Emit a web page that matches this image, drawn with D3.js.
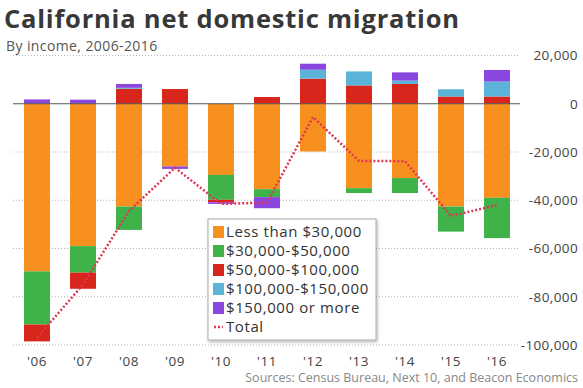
<!DOCTYPE html>
<html>
<head>
<meta charset="utf-8">
<script src="https://cdn.jsdelivr.net/npm/d3@7"></script>
<style>
  html, body { margin: 0; padding: 0; background: #fff; }
  svg { display: block; font-family: "Open Sans", "Lato", sans-serif; }
</style>
</head>
<body>
<svg id="chart" width="583" height="388"></svg>
<script>
// Net domestic migration into California by household income bracket
const years = ["'06", "'07", "'08", "'09", "'10", "'11", "'12", "'13", "'14", "'15", "'16"];
const under30k   = [-69500, -59000, -42600, -26000, -29500, -35400, -19800, -35000, -30800, -42600, -39000];
const from30to50 = [-22000, -11000,  -9700,      0, -10300,  -3300,      0,  -2000,  -6200, -10400, -16700];
const from50to100 = [-7000,  -6700,   6200,   6100,  -1000,   2800,  10400,   7600,   8200,   3000,   3000];
const from100to150 = [   0,      0,    400,      0,      0,      0,   3700,   5800,   1400,   3000,   6200];
const over150k   = [  1800,   1700,   1600,  -1000,   -700,  -4600,   2500,      0,   3400,      0,   4800];
const totals     = [-97000, -75000, -44500, -26500, -41500, -41000,  -5500, -23700, -23800, -46500, -42000];
const yTicks = [20000, 0, -20000, -40000, -60000, -80000, -100000];

const seriesNames = ["Less than $30,000", "$30,000-$50,000", "$50,000-$100,000", "$100,000-$150,000", "$150,000 or more"];
const seriesValues = [under30k, from30to50, from50to100, from100to150, over150k];
const colors = ["#f7901e", "#3fb34a", "#d8261d", "#5bb3d8", "#8a47e0"];

const rows = years.map((yr, i) => {
  const r = { year: yr };
  seriesNames.forEach((n, k) => { r[n] = seriesValues[k][i]; });
  return r;
});

const svg = d3.select("#chart");

const x = d3.scaleBand().domain(years).range([14, 520])
  .paddingInner(0.435).paddingOuter(0.2175);
const y = d3.scaleLinear().domain([-100000, 20000]).range([345, 55.5]);

// Title block
svg.append("text").attr("x", 4).attr("y", 28)
  .attr("font-size", 25.5).attr("font-weight", 700).attr("fill", "#383838")
  .attr("letter-spacing", 0.8)
  .text("California net domestic migration");
svg.append("text").attr("x", 6).attr("y", 51)
  .attr("font-size", 14).attr("fill", "#555").attr("letter-spacing", 0.4)
  .text("By income, 2006-2016");

// Dotted horizontal gridlines (zero gets its own solid rule)
svg.append("g").selectAll("line")
  .data(yTicks.filter(d => d !== 0))
  .join("line")
  .attr("x1", 13).attr("x2", 520)
  .attr("y1", d => y(d)).attr("y2", d => y(d))
  .attr("stroke", "#b5b5b5").attr("stroke-width", 1)
  .attr("stroke-dasharray", "1,2");

// Diverging stacked bars
const stack = d3.stack().keys(seriesNames).offset(d3.stackOffsetDiverging);
const stacked = stack(rows);

svg.append("g").selectAll("g")
  .data(stacked)
  .join("g")
  .attr("fill", (d, i) => colors[i])
  .selectAll("rect")
  .data(d => d)
  .join("rect")
  .attr("x", d => x(d.data.year))
  .attr("width", x.bandwidth())
  .attr("y", d => y(Math.max(d[0], d[1])))
  .attr("height", d => Math.abs(y(d[0]) - y(d[1])));

// Zero rule
svg.append("line")
  .attr("x1", 13).attr("x2", 520)
  .attr("y1", y(0)).attr("y2", y(0))
  .attr("stroke", "#555").attr("stroke-width", 1);

// Total line
const totalLine = d3.line()
  .x((d, i) => x(years[i]) + x.bandwidth() / 2)
  .y(d => y(d));
svg.append("path")
  .datum(totals)
  .attr("d", totalLine)
  .attr("fill", "none")
  .attr("stroke", "#de3653")
  .attr("stroke-width", 2.5)
  .attr("stroke-dasharray", "2,2");

// Right value axis
const yAxis = d3.axisRight(y).tickValues(yTicks).tickSize(0).tickPadding(0)
  .tickFormat(d3.format(","));
const ya = svg.append("g").attr("transform", "translate(578,0)").call(yAxis);
ya.select(".domain").remove();
ya.selectAll("text")
  .attr("text-anchor", "end").attr("font-size", 13.5).attr("letter-spacing", 0.4)
  .attr("font-family", "'Open Sans', sans-serif").attr("fill", "#444")
  .text(d => d < 0 ? "-" + d3.format(",")(-d) : d3.format(",")(d));

// Year axis
const xAxis = d3.axisBottom(x).tickSize(0).tickPadding(0);
const xa = svg.append("g").attr("transform", "translate(0,356)").call(xAxis);
xa.select(".domain").remove();
xa.selectAll("text")
  .attr("font-size", 13.5).attr("font-family", "'Open Sans', sans-serif")
  .attr("letter-spacing", 0.6)
  .attr("fill", "#444").attr("dy", "0.71em");

// Source line
svg.append("text").attr("x", 578).attr("y", 382)
  .attr("text-anchor", "end").attr("font-size", 12.5).attr("fill", "#888")
  .text("Sources: Census Bureau, Next 10, and Beacon Economics");

// Legend
const lg = svg.append("g").attr("transform", "translate(208,219)");
const defs = svg.append("defs");
const shadow = defs.append("filter").attr("id", "legendShadow")
  .attr("x", "-10%").attr("y", "-10%").attr("width", "130%").attr("height", "130%");
shadow.append("feDropShadow").attr("dx", 1).attr("dy", 1.5).attr("stdDeviation", 1.5)
  .attr("flood-color", "#000").attr("flood-opacity", 0.3);
lg.append("rect").attr("width", 168).attr("height", 121)
  .attr("fill", "#fff").attr("stroke", "#aaa").attr("stroke-width", 1)
  .attr("filter", "url(#legendShadow)");
const items = seriesNames.concat(["Total"]);
const li = lg.selectAll("g.item").data(items).join("g")
  .attr("class", "item")
  .attr("transform", (d, i) => `translate(5,${13 + i * 19})`);
li.filter((d, i) => i < 5).append("rect")
  .attr("x", 0).attr("y", -6).attr("width", 11).attr("height", 12)
  .attr("fill", (d, i) => colors[i]);
li.filter(d => d === "Total").append("line")
  .attr("x1", 1).attr("x2", 10).attr("y1", 0).attr("y2", 0)
  .attr("stroke", "#de3653").attr("stroke-width", 2.5).attr("stroke-dasharray", "2,2");
li.append("text").attr("x", 13).attr("y", 0).attr("dy", "0.35em")
  .attr("font-size", 15).attr("fill", "#333").attr("letter-spacing", 0.6)
  .text(d => d);
</script>
</body>
</html>
